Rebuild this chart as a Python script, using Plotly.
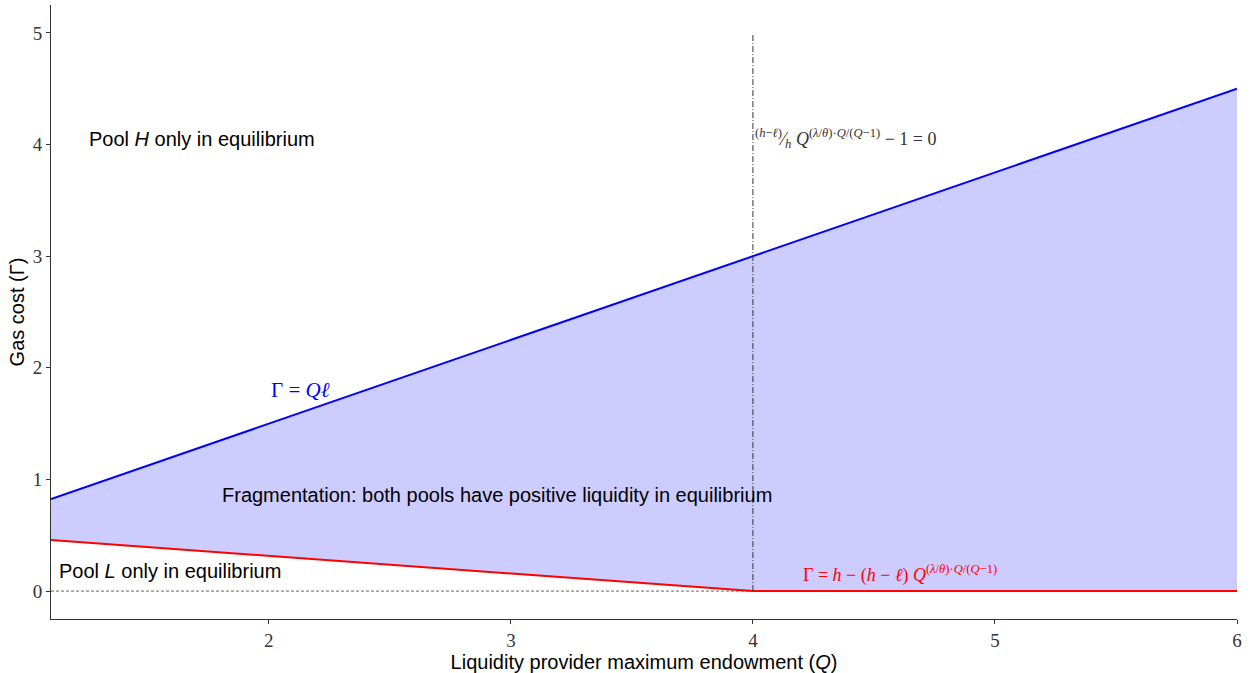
import plotly.graph_objects as go

# Data
Q = [1.1, 2, 3, 4, 5, 6]
gamma_upper = [0.825, 1.5, 2.25, 3.0, 3.75, 4.5]      # Γ = Qℓ
gamma_lower = [0.457, 0.315, 0.158, 0.0, 0.0, 0.0]    # Γ = h − (h−ℓ)Q^...
x_ticks = [2, 3, 4, 5, 6]
y_ticks = [0, 1, 2, 3, 4, 5]
threshold_Q = 4

SERIF = "Liberation Serif, DejaVu Serif, serif"
SANS = "Liberation Sans, Arial, sans-serif"

fig = go.Figure()

fig.add_trace(go.Scatter(x=Q, y=gamma_lower, mode="lines",
                         line=dict(color="#ff0000", width=2), showlegend=False,
                         hoverinfo="skip"))
fig.add_trace(go.Scatter(x=Q, y=gamma_upper, mode="lines", fill="tonexty",
                         fillcolor="rgba(0,0,255,0.2)",
                         line=dict(color="#0000ff", width=2), showlegend=False,
                         hoverinfo="skip"))

# zero line (dashed) and vertical threshold (dash-dot)
fig.add_shape(type="line", x0=Q[0], x1=Q[-1], y0=0, y1=0, layer="below",
              line=dict(color="#666666", width=1, dash="3px,2px"))
fig.add_shape(type="line", x0=threshold_Q, x1=threshold_Q, y0=0, y1=5, layer="above",
              line=dict(color="#333333", width=1, dash="6px,2px,1px,2px"))

ann_font = dict(family=SANS, size=20, color="black")
fig.add_annotation(x=1.25, y=4.05, text="Pool <i>H</i> only in equilibrium",
                   showarrow=False, xanchor="left", yanchor="middle", font=ann_font)
fig.add_annotation(x=1.8, y=0.86, text="Fragmentation: both pools have positive liquidity in equilibrium",
                   showarrow=False, xanchor="left", yanchor="middle", font=ann_font)
fig.add_annotation(x=1.125, y=0.18, text="Pool <i>L</i> only in equilibrium",
                   showarrow=False, xanchor="left", yanchor="middle", font=ann_font)
fig.add_annotation(x=2.0, y=1.8, text="Γ = <i>Qℓ</i>",
                   showarrow=False, xanchor="left", yanchor="middle",
                   font=dict(family=SERIF, size=21, color="#0000ff"))
fig.add_annotation(x=4.0, y=4.05,
                   text="<sup>(<i>h</i>−<i>ℓ</i>)</sup>⁄<sub><i>h</i></sub> <i>Q</i><sup>(<i>λ</i>/<i>θ</i>)·<i>Q</i>/(<i>Q</i>−1)</sup> − 1 = 0",
                   showarrow=False, xanchor="left", yanchor="middle",
                   font=dict(family=SERIF, size=18, color="#333333"))
fig.add_annotation(x=4.2, y=0.15,
                   text="Γ = <i>h</i> − (<i>h</i> − <i>ℓ</i>) <i>Q</i><sup>(<i>λ</i>/<i>θ</i>)·<i>Q</i>/(<i>Q</i>−1)</sup>",
                   showarrow=False, xanchor="left", yanchor="middle",
                   font=dict(family=SERIF, size=18, color="#ff0000"))

axis_common = dict(showgrid=False, zeroline=False, showline=True, linecolor="#333333",
                   linewidth=1, ticks="outside", ticklen=4, tickcolor="#333333",
                   automargin=False,
                   tickfont=dict(family=SERIF, size=19, color="#333333"))

fig.update_xaxes(range=[1.1, 6], tickvals=x_ticks,
                 title=dict(text="Liquidity provider maximum endowment (<i>Q</i>)",
                            font=dict(family=SANS, size=20, color="black"), standoff=4),
                 **axis_common)
fig.update_yaxes(range=[-0.25, 5.25], tickvals=y_ticks,
                 title=dict(text="Gas cost (Γ)",
                            font=dict(family=SANS, size=20, color="black"), standoff=2),
                 **axis_common)

fig.update_layout(width=1253, height=673, plot_bgcolor="white", paper_bgcolor="white",
                  margin=dict(l=51, r=16, t=5, b=54))

fig.write_html("out.html", config={"displayModeBar": False},
               post_script="document.body.style.margin='0';document.body.style.overflow='hidden';")
